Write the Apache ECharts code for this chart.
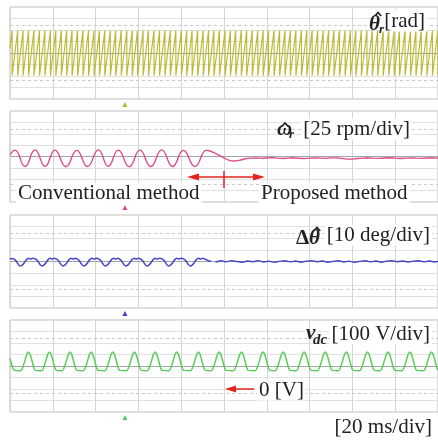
<!DOCTYPE html>
<html>
<head>
<meta charset="utf-8">
<script src="https://cdn.jsdelivr.net/npm/echarts@6/dist/echarts.min.js"></script>
<style>
  html, body { margin: 0; padding: 0; background: #fff; }
  #scope { width: 438px; height: 446px; }
</style>
</head>
<body>
<div id="scope"></div>
<script>
// ---- time base: 20 ms/div, 10 divisions ----
const timeMin = 0, timeMax = 200, timeDiv = 20;

// ---- channel 1: estimated rotor position θ̂r [rad] (sawtooth, wrap instants in ms) ----
const thetaDiv = 1.6;
const thetaLow = -3.14, thetaHigh = 3.14;
const thetaStart = 0.7;
const thetaWraps = [1.0, 3.6, 6.1, 8.7, 11.2, 13.8, 16.3, 18.9, 21.4, 24.0, 26.5, 29.0, 31.6, 34.1,
  36.7, 39.3, 41.8, 44.3, 46.9, 49.4, 52.0, 54.6, 57.1, 59.6, 62.2, 64.7, 67.3, 69.9, 72.4, 74.9,
  77.5, 80.1, 82.6, 85.1, 87.7, 90.3, 92.8, 95.3, 97.9, 100.5, 103.0, 105.5, 108.1, 110.6, 113.2,
  115.8, 118.3, 120.8, 123.4, 126.0, 128.5, 131.0, 133.6, 136.2, 138.7, 141.2, 143.8, 146.4, 148.9,
  151.4, 154.0, 156.6, 159.1, 161.6, 164.2, 166.8, 169.3, 171.8, 174.4, 177.0, 179.5, 182.0, 184.6,
  187.2, 189.7, 192.2, 194.8, 197.4, 199.9];

// ---- channel 2: estimated speed ω̂r [25 rpm/div] ----
const omegaDiv = 25;
const omegaConventional = [[0, 4], [2.3, 14], [7.0, -22], [11.7, 14.5], [16.4, -21.5], [21.0, 14],
  [26.1, -22.5], [31.2, 13.5], [36.2, -22], [41.3, 14.5], [45.9, -21.5], [50.6, 14], [55.7, -22.5],
  [60.7, 14], [65.8, -22], [70.9, 14.5], [76.0, -22], [81.0, 13.5], [86.4, -22], [91.9, 14],
  [93.5, 12], [95.5, 8], [97.5, 3], [100, -3], [102.5, -8.5], [105, -10], [107.5, -8], [110, -5],
  [112.5, -3.5]];
const omegaProposed = [[112.5, -3.5], [115, -3.0], [117.5, -4.1], [120, -3.3], [122.5, -2.6],
  [125, -3.6], [127.5, -4.4], [130, -3.4], [132.5, -2.8], [135, -3.8], [137.5, -4.5], [140, -3.6],
  [142.5, -2.9], [145, -3.5], [147.5, -4.2], [150, -3.2], [152.5, -2.9], [155, -4.2], [157.5, -5.6],
  [160, -5.9], [162.5, -4.4], [165, -3.4], [167.5, -2.8], [170, -3.7], [172.5, -4.3], [175, -3.3],
  [177.5, -2.7], [180, -3.6], [182.5, -4.4], [185, -3.5], [187.5, -2.9], [190, -3.6], [192.5, -4.2],
  [195, -3.3], [197.5, -3.0], [200, -3.6]];

// ---- channel 3: position error Δθ̂ [10 deg/div] ----
const dthDiv = 10;
const dthLead = [[0, 2.0], [0.9, 2.6]];
const dthDipTimes = [4.7, 14.8, 24.6, 34.3, 44.4, 54.0, 63.9, 74.0, 84.1];
const dthDipShape = [[-3.0, 2.3], [-2.0, 0.9], [-1.0, -2.0], [0, -3.8], [1.0, -3.1], [2.0, -1.0],
  [3.0, 1.6], [4.0, 2.7], [5.0, 2.1], [6.0, 2.8]];
const dthSettle = [[91.3, 1.9], [92.6, 0.6], [94, 0.1]];
const dthProposed = [[96, -0.4], [98.5, 0.6], [101, -0.3], [103.5, 0.7], [106, 0.0], [108.5, -0.6],
  [111, 0.4], [113.5, -0.2], [116, 0.7], [118.5, -0.4], [121, 0.3], [123.5, -0.7], [126, 0.1],
  [128.5, 0.6], [131, -0.3], [133.5, 0.4], [136, -0.6], [138.5, 0.3], [141, 0.7], [143.5, -0.2],
  [146, 0.4], [148.5, -0.6], [151, 0.1], [153.5, 0.6], [156, -0.4], [158.5, 0.3], [161, -0.7],
  [163.5, 0.1], [166, 0.6], [168.5, -0.3], [171, 0.4], [173.5, -0.6], [176, 0.3], [178.5, 0.7],
  [181, -0.2], [183.5, 0.4], [186, -0.4], [188.5, 0.3], [191, 0.6], [193.5, -0.3], [196, 0.4],
  [198.5, -0.4], [200, 0.1]];

// ---- channel 4: DC-link voltage v_dc [100 V/div], 0 V two divisions below centre ----
const vdcDiv = 100, vdcCentre = 200;
const vdcLead = [[0, 266], [0.7, 222], [1.3, 183], [1.9, 164]];
const vdcPeakTimes = [8.6, 18.4, 28.0, 37.9, 48.0, 58.1, 67.8, 77.9, 88.0, 97.7, 108.1, 118.2,
  127.6, 137.4, 147.3, 157.1, 167.0, 176.6, 186.8, 196.9];
const vdcPulseShape = [[-3.7, 158], [-3.0, 172], [-2.2, 212], [-1.4, 262], [-0.7, 303], [0, 322],
  [0.7, 305], [1.4, 265], [2.1, 215], [2.7, 177], [3.2, 162]];

// ---- build the traces ----
function sawtooth(start, wraps, lo, hi) {
  const pts = [[0, start]];
  wraps.forEach(w => { pts.push([w, hi], [w, lo]); });
  return pts;
}
function repeatShape(lead, centres, shape, tail) {
  const pts = lead.slice();
  centres.forEach(c => shape.forEach(([dt, v]) => pts.push([+(c + dt).toFixed(2), v])));
  return pts.concat(tail || []);
}

const thetaData = sawtooth(thetaStart, thetaWraps, thetaLow, thetaHigh);
const dthConventional = repeatShape(dthLead, dthDipTimes, dthDipShape, dthSettle);
const vdcData = repeatShape(vdcLead, vdcPeakTimes, vdcPulseShape);

// ---- screen layout ----
const panels = [
  { top: 7,   height: 92, div: thetaDiv, centre: 0 },
  { top: 111, height: 91, div: omegaDiv, centre: 0 },
  { top: 215, height: 93, div: dthDiv,   centre: 0 },
  { top: 320, height: 92, div: vdcDiv,   centre: vdcCentre }
];
const plotLeft = 10, plotWidth = 428;
const gridColor = '#d6d6d6';
const serif = "'Liberation Serif','Times New Roman',serif";
const inkColor = '#222';
const arrowRed = '#e4231f';

const grids = panels.map(p => ({
  left: plotLeft, top: p.top, width: plotWidth, height: p.height,
  show: true, borderColor: '#bdbdbd', borderWidth: 1, backgroundColor: 'transparent'
}));
const xAxes = panels.map((p, i) => ({
  type: 'value', gridIndex: i, min: timeMin, max: timeMax, interval: timeDiv,
  axisLine: { show: false }, axisTick: { show: false }, axisLabel: { show: false },
  splitLine: { show: true, lineStyle: { color: gridColor, width: 1 } }
}));
const yAxes = panels.map((p, i) => ({
  type: 'value', gridIndex: i,
  min: p.centre - 4 * p.div, max: p.centre + 4 * p.div, interval: p.div,
  axisLine: { show: false }, axisTick: { show: false }, axisLabel: { show: false },
  splitLine: { show: true, lineStyle: { color: '#e0e0e0', width: 1 } }
}));

// centre line and dashed reference lines of each panel
const overlays = panels.map((p, i) => ({
  type: 'line', xAxisIndex: i, yAxisIndex: i, data: [], z: 1, silent: true,
  markLine: {
    silent: true, symbol: 'none', animation: false, label: { show: false },
    data: [
      { yAxis: p.centre, lineStyle: { color: '#a4a4a4', width: 1, type: 'solid' } },
      { yAxis: p.centre + 2.4 * p.div, lineStyle: { color: '#c8c8c8', width: 1, type: [3, 3] } },
      { yAxis: p.centre - 2.4 * p.div, lineStyle: { color: '#c8c8c8', width: 1, type: [3, 3] } }
    ]
  }
}));

function trace(idx, data, color, width, smooth) {
  return {
    type: 'line', xAxisIndex: idx, yAxisIndex: idx, data: data, z: 5,
    showSymbol: false, symbol: 'none', smooth: smooth, silent: true,
    lineStyle: { color: color, width: width }
  };
}

const series = overlays.concat([
  trace(0, thetaData, '#bdb935', 1.15, false),
  trace(1, omegaConventional, '#dc4a88', 1.4, 0.5),
  trace(1, omegaProposed, '#dc4a88', 1.3, false),
  trace(2, dthConventional, '#4545cc', 1.5, 0.35),
  trace(2, dthProposed, '#4545cc', 1.4, false),
  trace(3, vdcData, '#58d058', 1.5, 0.3)
]);

// ---- annotations ----
function label(x, y, text, font, align) {
  return {
    type: 'text', x: x, y: y, z: 50,
    style: { text: text, font: font, fill: inkColor, align: align || 'left', verticalAlign: 'middle' }
  };
}
function boxedLabel(x, y, text, align) {
  const g = label(x, y, text, '21px ' + serif, align);
  g.style.backgroundColor = '#fff';
  g.style.padding = [0, 2];
  return g;
}
// circumflex accent drawn over a symbol
function hat(cx, cy) {
  return {
    type: 'polyline', z: 51,
    shape: { points: [[cx - 3.2, cy + 2], [cx, cy - 1.5], [cx + 3.2, cy + 2]] },
    style: { stroke: inkColor, lineWidth: 1.7, fill: null }
  };
}
const symFont = 'italic bold 21px ' + serif;
const subFont = 'italic bold 13px ' + serif;

const chart = echarts.init(document.getElementById('scope'), null, { renderer: 'canvas' });
chart.setOption({
  animation: false,
  backgroundColor: '#fff',
  grid: grids, xAxis: xAxes, yAxis: yAxes, series: series
});

// channel ground markers and the 0 V pointer use the axes' own scales
const markerTime = 53.7;
const markerColors = ['#b5b22a', '#dc4a88', '#3b3bc0', '#58d058'];
const markers = panels.map((p, i) => {
  const bottom = p.top + p.height;
  const x = chart.convertToPixel({ xAxisIndex: i }, markerTime);
  return {
    type: 'polygon', z: 40,
    shape: { points: [[x, bottom + 3], [x - 2.5, bottom + 8], [x + 2.5, bottom + 8]] },
    style: { fill: markerColors[i] }
  };
});
const zeroVy = chart.convertToPixel({ yAxisIndex: 3 }, 0);

const graphics = markers.concat([
  // θ̂r [rad]
  boxedLabel(427, 21, '[rad]', 'right'),
  label(369, 25, 'θ', symFont),
  hat(378, 14),
  label(379, 30, 'r', subFont),
  // ω̂r [25 rpm/div]
  boxedLabel(412, 129, '[25 rpm/div]', 'right'),
  label(277, 130, 'ω', symFont),
  hat(285, 124.5),
  label(289, 135, 'r', subFont),
  // method labels and switching arrow
  boxedLabel(16, 193.5, 'Conventional method', 'left'),
  boxedLabel(259, 193.5, 'Proposed method', 'left'),
  { type: 'line', z: 45, shape: { x1: 196, y1: 177, x2: 255, y2: 177 }, style: { stroke: arrowRed, lineWidth: 1.5 } },
  { type: 'polygon', z: 45, shape: { points: [[187, 177], [199, 173.5], [199, 180.5]] }, style: { fill: arrowRed } },
  { type: 'polygon', z: 45, shape: { points: [[265, 177], [253, 173.5], [253, 180.5]] }, style: { fill: arrowRed } },
  { type: 'line', z: 45, shape: { x1: 224, y1: 171, x2: 224, y2: 188 }, style: { stroke: arrowRed, lineWidth: 1.5 } },
  // Δθ̂ [10 deg/div]
  boxedLabel(432, 235, '[10 deg/div]', 'right'),
  label(296, 239, 'Δ', 'bold 21px ' + serif),
  label(309, 239, 'θ', symFont),
  hat(317, 229),
  // v_dc [100 V/div]
  boxedLabel(432, 334, '[100 V/div]', 'right'),
  label(306, 334, 'v', symFont),
  label(313, 340, 'dc', 'italic bold 15px ' + serif),
  // 0 V pointer
  { type: 'line', z: 45, shape: { x1: 234, y1: zeroVy, x2: 254, y2: zeroVy }, style: { stroke: arrowRed, lineWidth: 1.5 } },
  { type: 'polygon', z: 45, shape: { points: [[225, zeroVy], [236, zeroVy - 3.5], [236, zeroVy + 3.5]] }, style: { fill: arrowRed } },
  boxedLabel(257, 390, '0 [V]', 'left'),
  // time base
  label(432, 427.5, '[20 ms/div]', '21px ' + serif, 'right')
]);
chart.setOption({ graphic: graphics });
</script>
</body>
</html>
